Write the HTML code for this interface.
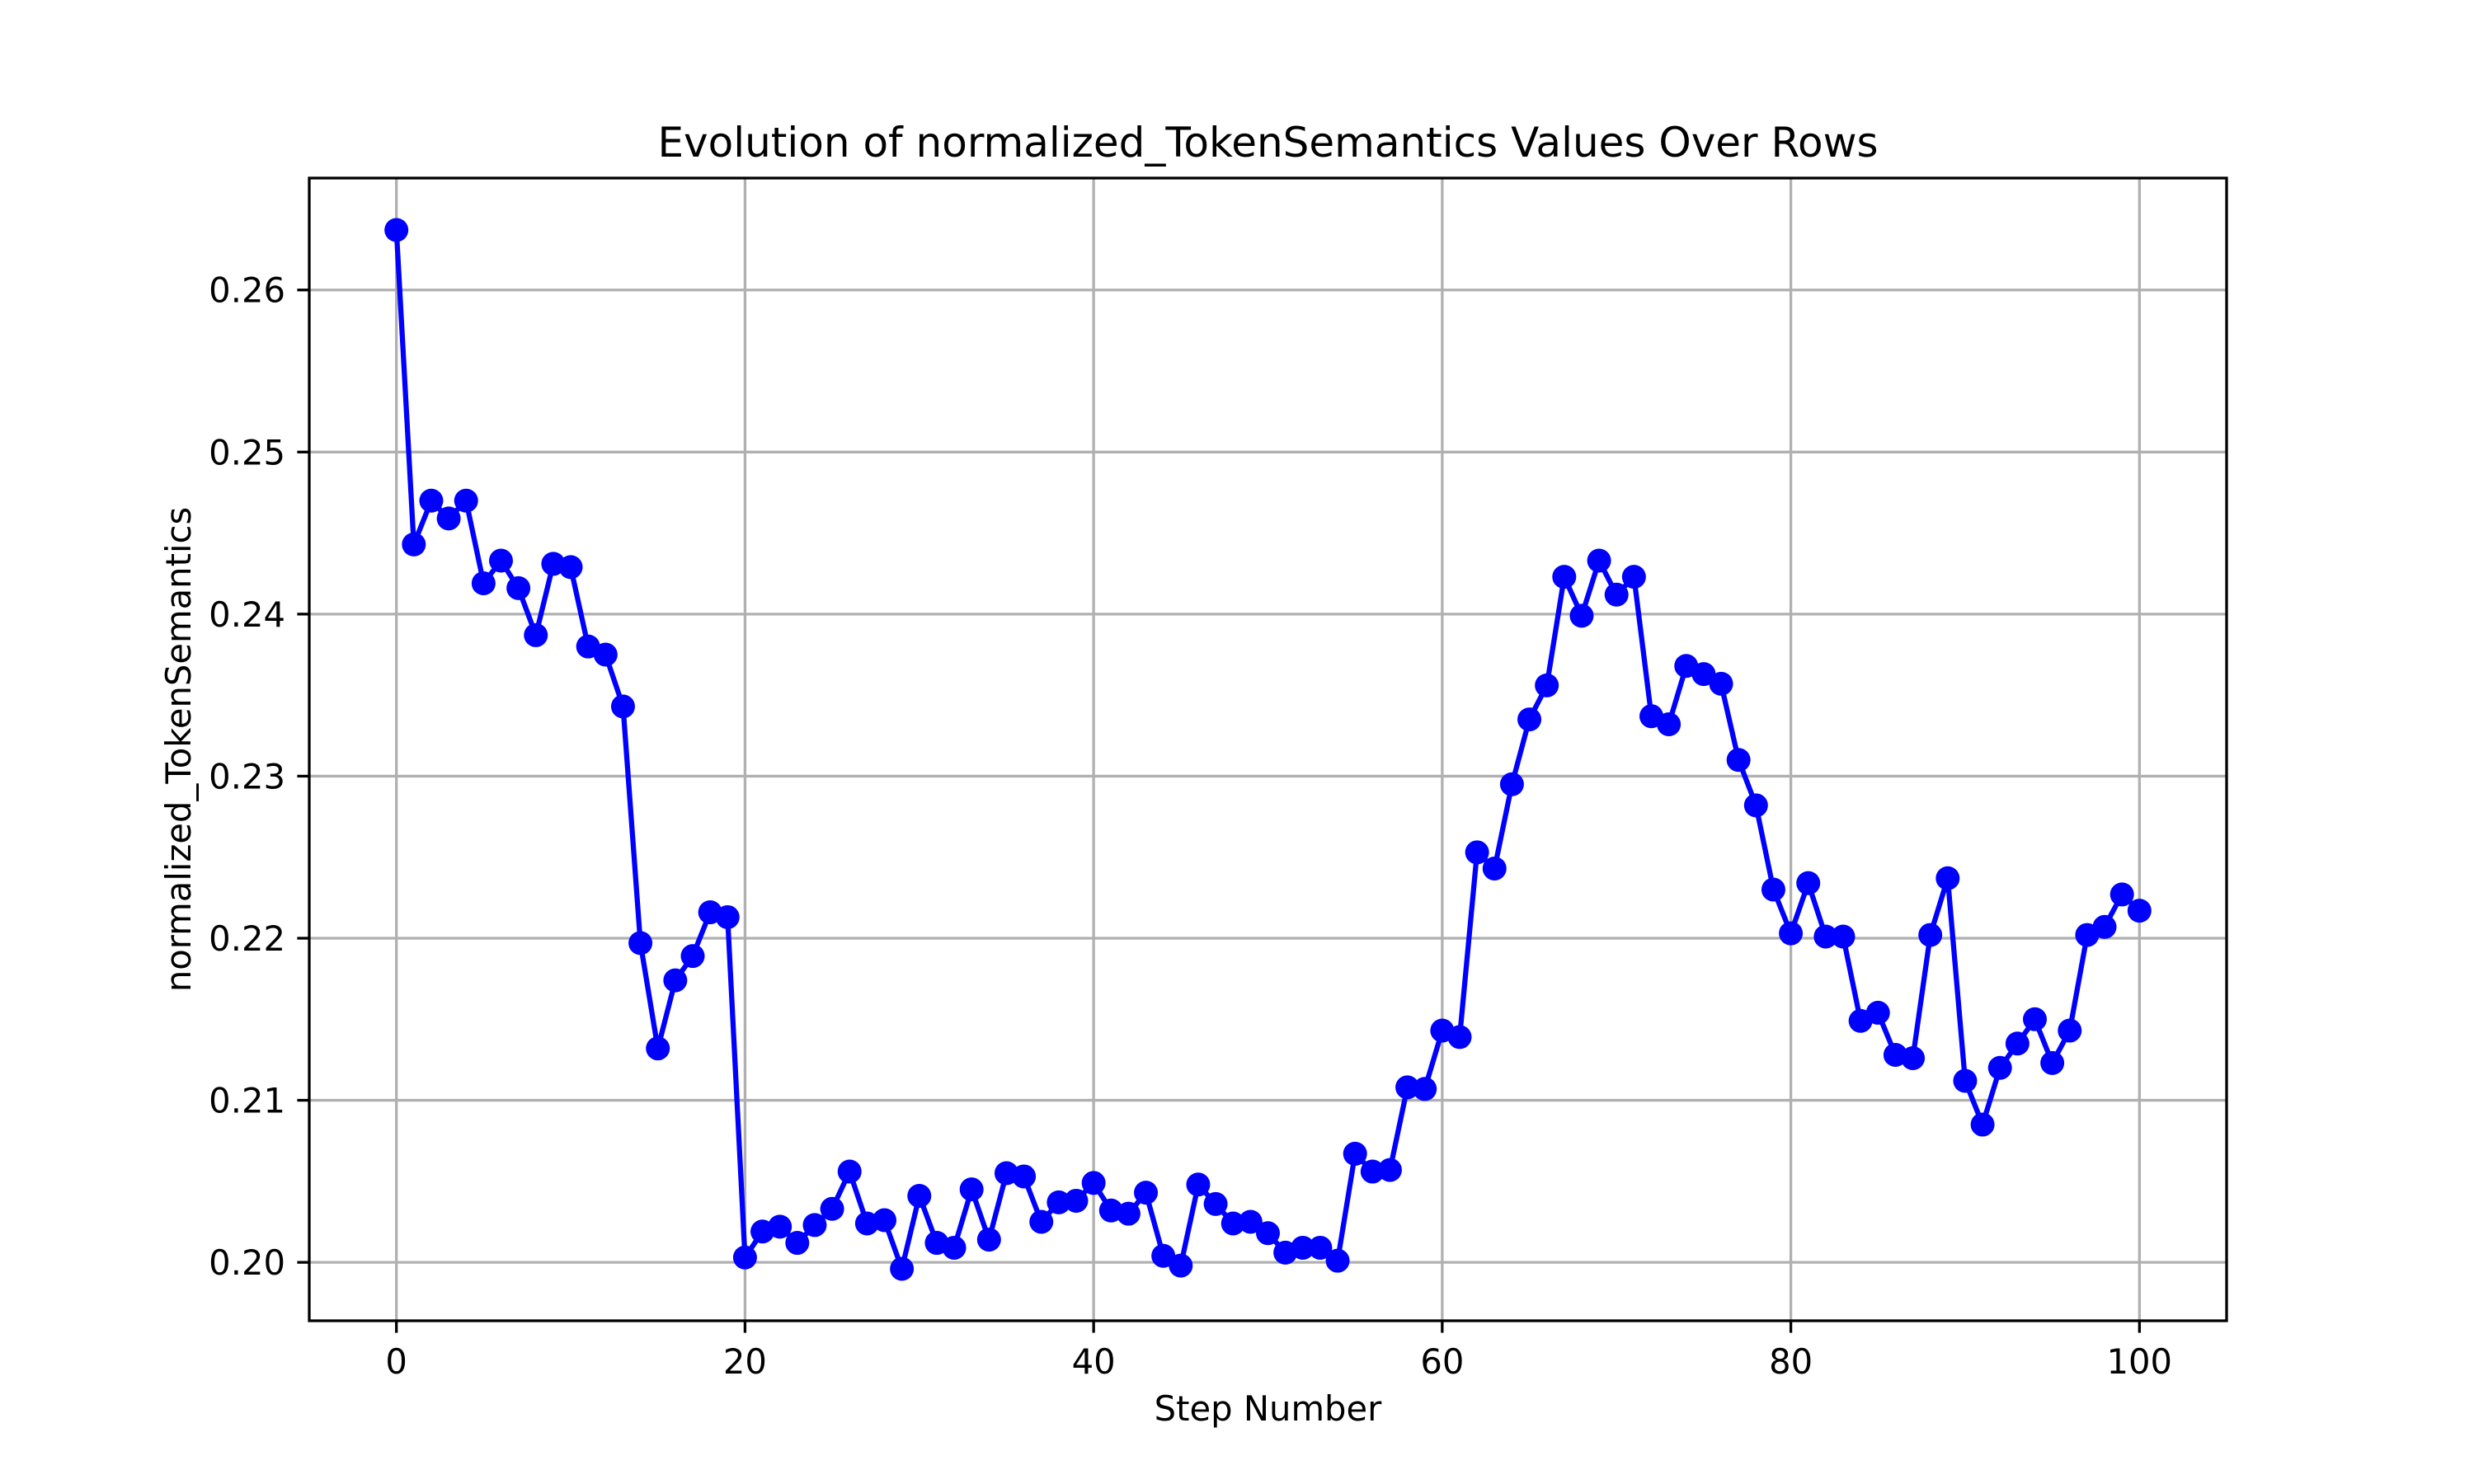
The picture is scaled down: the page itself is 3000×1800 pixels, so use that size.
<!DOCTYPE html>
<html>
<head>
<meta charset="utf-8">
<style>
html,body{margin:0;padding:0;background:#fff;}
svg{display:block;font-family:"DejaVu Sans","Liberation Sans",sans-serif;}
</style>
</head>
<body>
<svg id="chart" width="3000" height="1800" viewBox="0 0 3000 1800" xmlns="http://www.w3.org/2000/svg">
<rect width="3000" height="1800" fill="#fff"/>
<g id="grid"></g>
<g id="series"></g>
<rect x="375" y="216" width="2325" height="1386" fill="none" stroke="#000" stroke-width="3.3"/>
<g id="xticks"></g>
<g id="yticks"></g>
<text x="1537.5" y="190" font-size="50" text-anchor="middle">Evolution of normalized_TokenSemantics Values Over Rows</text>
<text x="1537.5" y="1723" font-size="41.7" text-anchor="middle">Step Number</text>
<text x="0" y="0" font-size="41.7" text-anchor="middle" transform="translate(231,909) rotate(-90)">normalized_TokenSemantics</text>
</svg>
<script>
const values = [0.2637,0.2443,0.2470,0.2459,0.2470,0.2419,0.2433,0.2416,0.2387,0.2431,
0.2429,0.2380,0.2375,0.2343,0.2197,0.2132,0.2174,0.2189,0.2216,0.2213,
0.2003,0.2019,0.2022,0.2012,0.2023,0.2033,0.2056,0.2024,0.2026,0.1996,
0.2041,0.2012,0.2009,0.2045,0.2014,0.2055,0.2053,0.2025,0.2037,0.2038,
0.2049,0.2032,0.2030,0.2043,0.2004,0.1998,0.2048,0.2036,0.2024,0.2025,
0.2018,0.2006,0.2009,0.2009,0.2001,0.2067,0.2056,0.2057,0.2108,0.2107,
0.2143,0.2139,0.2253,0.2243,0.2295,0.2335,0.2356,0.2423,0.2399,0.2433,
0.2412,0.2423,0.2337,0.2332,0.2368,0.2363,0.2357,0.2310,0.2282,0.2230,
0.2203,0.2234,0.2201,0.2201,0.2149,0.2154,0.2128,0.2126,0.2202,0.2237,
0.2112,0.2085,0.2120,0.2135,0.2150,0.2123,0.2143,0.2202,0.2207,0.2227,0.2217];
const xTicks = [0,20,40,60,80,100];
const yTicks = [0.20,0.21,0.22,0.23,0.24,0.25,0.26];
const yTickLabels = ["0.20","0.21","0.22","0.23","0.24","0.25","0.26"];

const L=375,R=2700,T=216,B=1602;
const n=values.length;
const xmin=-0.05*(n-1), xmax=(n-1)*1.05;
const vmin=Math.min(...values), vmax=Math.max(...values), pad=(vmax-vmin)*0.05;
const ymin=vmin-pad, ymax=vmax+pad;
const sx=v=>L+(v-xmin)/(xmax-xmin)*(R-L);
const sy=v=>B-(v-ymin)/(ymax-ymin)*(B-T);
const NS="http://www.w3.org/2000/svg";
function mk(tag,attrs,parent){const e=document.createElementNS(NS,tag);for(const k in attrs)e.setAttribute(k,attrs[k]);parent.appendChild(e);return e;}
const grid=document.getElementById('grid'),xg=document.getElementById('xticks'),yg=document.getElementById('yticks'),sg=document.getElementById('series');
xTicks.forEach(t=>{
  const x=sx(t);
  const gl=mk('line',{x1:x,x2:x,y1:T,y2:B,stroke:'#b0b0b0','stroke-width':3.3},grid);
  
  
  const tk=mk('line',{x1:x,x2:x,y1:B,y2:B+14.6,stroke:'#000','stroke-width':3.3},xg);
  
  
  const tx=mk('text',{x:x,y:B+64,'font-size':41.7,'text-anchor':'middle'},xg);
  tx.textContent=String(t);
  
  
});
yTicks.forEach((t,i)=>{
  const y=sy(t);
  const gl=mk('line',{x1:L,x2:R,y1:y,y2:y,stroke:'#b0b0b0','stroke-width':3.3},grid);
  
  
  const tk=mk('line',{x1:L-14.6,x2:L,y1:y,y2:y,stroke:'#000','stroke-width':3.3},yg);
  
  
  const tx=mk('text',{x:L-29,y:y+15,'font-size':41.7,'text-anchor':'end'},yg);
  tx.textContent=yTickLabels[i];
  
  
});
const pts=values.map((v,i)=>sx(i).toFixed(1)+','+sy(v).toFixed(1)).join(' ');
const line=mk('polyline',{points:pts,fill:'none',stroke:'#0000ff','stroke-width':6.25,'stroke-linejoin':'round'},sg);


values.forEach((v,i)=>{
  const c=mk('circle',{cx:sx(i),cy:sy(v),r:14.5,fill:'#0000ff'},sg);
  
  
});
</script>
</body>
</html>
